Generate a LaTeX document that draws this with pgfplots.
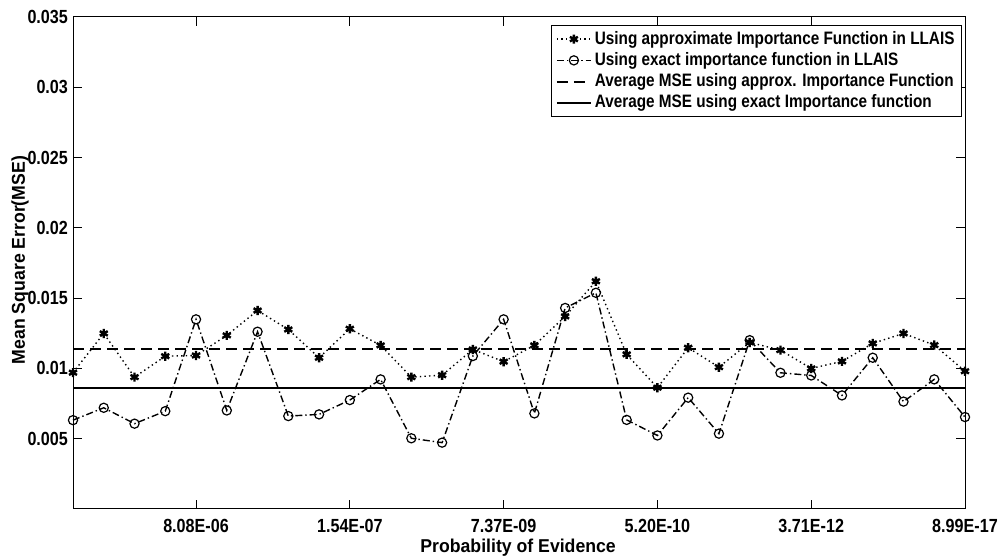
\documentclass[border=0pt]{standalone}
\usepackage{pgfplots}
\pgfplotsset{compat=1.18}
\usepackage{pgfplotstable}
\usepackage{fontspec}
\setmainfont{Liberation Sans}[FakeStretch=0.85]
\newfontfamily\labfont{Liberation Sans}[FakeStretch=0.95]
\usetikzlibrary{calc}

\pgfplotstableread{
x A B
0 0.0097 0.00632
1 0.01249 0.0072
2 0.00938 0.00607
3 0.01087 0.00696
4 0.01092 0.01349
5 0.01235 0.00701
6 0.01412 0.01261
7 0.01277 0.00661
8 0.01076 0.00673
9 0.01282 0.00775
10 0.01164 0.00922
11 0.00938 0.00503
12 0.00952 0.00472
13 0.01135 0.01088
14 0.01048 0.01349
15 0.01164 0.0068
16 0.0137 0.0143
17 0.0162 0.01538
18 0.011 0.00634
19 0.00863 0.00523
20 0.01147 0.00792
21 0.01009 0.00536
22 0.01185 0.01201
23 0.0113 0.00969
24 0.0100 0.0095
25 0.0105 0.00808
26 0.01178 0.01076
27 0.01249 0.00764
28 0.01166 0.00922
29 0.0098 0.00654
}\datatable

\newcommand{\tickfont}{\fontsize{9.5}{10}\selectfont\bfseries}
\newcommand{\legfont}{\fontsize{9}{10}\selectfont\bfseries}
\newcommand{\axlabfont}{\labfont\fontsize{9.3}{10}\selectfont\bfseries}

\begin{document}
\begin{tikzpicture}
\begin{axis}[
  scale only axis,
  width=446pt, height=246pt,
  xmin=0, xmax=29, ymin=0, ymax=0.035,
  clip=false,
  scaled y ticks=false, scaled x ticks=false,
  xtick={4,9,14,19,24,29},
  xticklabels={8.08E-06,1.54E-07,7.37E-09,5.20E-10,3.71E-12,8.99E-17},
  ytick={0.005,0.01,0.015,0.02,0.025,0.03,0.035},
  yticklabels={0.005,0.01,0.015,0.02,0.025,0.03,0.035},
  tick align=inside,
  xtick pos=both, ytick pos=both,
  major tick length=4.5pt,
  tick style={black, line width=0.5pt},
  axis line style={black, line width=0.5pt},
  ticklabel style={font=\tickfont},
  xticklabel style={yshift=-1.5pt},
  yticklabel style={xshift=1pt},
  xlabel={Probability of Evidence},
  ylabel={Mean Square Error(MSE)},
  xlabel style={font=\axlabfont, at={(axis description cs:0.499,-0.0793)}, anchor=center},
  ylabel style={font=\axlabfont, at={(axis description cs:-0.0594,0.506)}, anchor=center},
  legend style={at={(axis description cs:0.9966,0.9837)}, anchor=north east,
    draw=black, line width=0.5pt, font=\legfont, inner xsep=2pt, inner ysep=1.5pt,
    row sep=0pt, nodes={inner ysep=1.3pt, inner xsep=1.5pt}, cells={anchor=west}},
  legend image code/.code={
    \draw[mark repeat=2,mark phase=2,#1] plot coordinates {(0pt,0pt) (8.5pt,0pt) (17pt,0pt)};},
]
\coordinate (sw) at (rel axis cs:0,0);
\coordinate (ne) at (rel axis cs:1,1);
\addplot[black, line width=0.7pt, dash pattern=on 0.7pt off 1.6pt,
  mark=asterisk, mark size=2.3pt, mark options={solid, line width=1.2pt}]
  table[x=x, y=A] {\datatable};
\addlegendentry{Using approximate Importance Function in LLAIS}
\addplot[black, line width=0.7pt, dash pattern=on 3.5pt off 1.5pt on 0.7pt off 1.5pt,
  mark=o, mark size=2.3pt, mark options={solid, line width=0.6pt}]
  table[x=x, y=B] {\datatable};
\addlegendentry{Using exact importance function in LLAIS}
\addplot[black, line width=1pt, dash pattern=on 5.5pt off 3pt]
  coordinates {(0,0.01135) (29,0.01135)};
\addlegendentry{Average MSE using approx. Importance Function}
\addplot[black, line width=1pt]
  coordinates {(0,0.00863) (29,0.00863)};
\addlegendentry{Average MSE using exact Importance function}
\end{axis}
\pgfresetboundingbox
\path ($(sw)+(-36.5pt,-25pt)$) rectangle ($(ne)+(17pt,8.5pt)$);
\end{tikzpicture}
\end{document}
